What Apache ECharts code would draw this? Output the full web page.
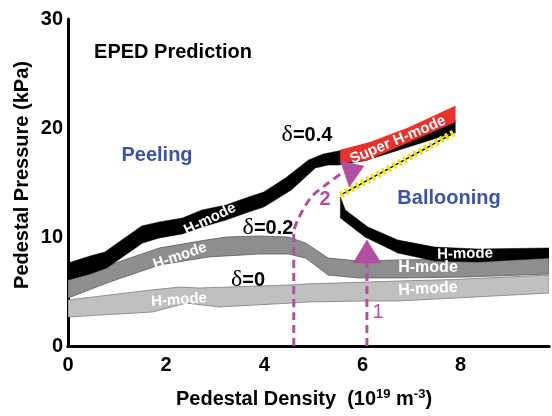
<!DOCTYPE html>
<html>
<head>
<meta charset="utf-8">
<script src="https://cdn.jsdelivr.net/npm/echarts@6/dist/echarts.min.js"></script>
<style>
  html, body { margin: 0; padding: 0; background: #fff; }
  #chart { width: 552px; height: 416px; }
</style>
</head>
<body>
<div id="chart"></div>
<script>
// Pedestal pressure bands (kPa) vs pedestal density (1e19 m^-3)
const xTickValues = [0, 2, 4, 6, 8];
const yTickValues = [0, 10, 20, 30];

// delta = 0 band
const lowDeltaUpper = [[0,4.22],[1.52,5.05],[2.27,5.41],[2.67,5.32],[4.55,5.6],[4.9,5.7],[6.11,5.87],[6.72,5.96],[7.89,6.1],[9.8,6.51]];
const lowDeltaLower = [[0,2.66],[1.72,3.12],[2.41,3.94],[3.08,3.58],[4.55,3.94],[4.9,4.04],[6.11,4.13],[6.72,4.13],[7.89,4.4],[9.8,4.86]];

// delta = 0.2 band
const midDeltaUpper = [[0,6.06],[0.85,7.43],[1.86,8.99],[2.81,9.72],[3.22,10.0],[3.89,10.09],[4.49,10.0],[4.84,9.45],[5.3,8.07],[5.91,7.8],[6.72,7.89],[8.14,7.98],[9.8,8.26]];
const midDeltaLower = [[0,4.4],[0.85,5.87],[1.86,7.43],[2.87,8.17],[3.89,8.44],[4.49,8.44],[4.84,8.07],[5.3,6.51],[5.91,6.24],[6.72,6.24],[8.14,6.33],[9.8,6.61]];

// delta = 0.4 band, low-density (peeling-limited) branch
const highDeltaUpper = [[0,7.61],[0.45,8.26],[0.75,8.62],[1.5,11.01],[1.86,11.38],[2.33,11.74],[2.73,12.48],[3.22,12.94],[3.68,13.67],[3.99,14.13],[4.43,15.41],[4.9,17.06],[5.2,17.61],[5.51,17.89]];
const highDeltaLower = [[0,6.06],[0.45,6.61],[0.79,7.16],[1.52,9.45],[1.86,9.91],[2.33,10.28],[2.73,10.92],[3.22,11.56],[3.68,12.29],[3.99,12.75],[4.55,14.31],[5.04,16.33],[5.3,16.6],[5.51,16.6]];

// delta = 0.4 band, high-density (ballooning-limited) branch
const highBranchUpper = [[5.55,13.67],[5.65,12.48],[6.11,10.92],[6.72,9.72],[7.47,9.08],[8.34,8.9],[9.8,8.99]];
const highBranchLower = [[5.55,11.74],[6.05,10.0],[6.72,8.53],[7.47,7.8],[8.34,7.7],[9.8,8.07]];

// delta = 0.4 continuation under the Super H-mode branch
const highCapUpper = [[5.51,17.89],[7.89,20.7]];
const highCapLower = [[5.51,16.6],[6.05,17.0],[7.89,19.6]];

// Super H-mode branch
const superUpper = [[5.55,17.98],[6.11,18.62],[6.92,20.0],[7.89,22.02]];
const superLower = [[5.55,16.79],[6.11,17.06],[7.89,20.55]];

// ballooning limit between the branches
const ballooningLimit = [[5.55,13.85],[7.89,19.63]];

// trajectories and arrowheads
const path1 = [[6.09,0],[6.09,7.61]];
const path2 = [[4.6,0],[4.6,10.37],[4.7,11.74],[4.96,13.67],[5.3,14.95],[5.61,15.96]];
const arrow1 = [[5.81,7.61],[6.38,7.61],[6.09,9.72]];
const arrow2 = [[5.55,16.97],[6.03,16.51],[5.73,14.59]];

const SANS = '"Liberation Sans", Arial, sans-serif';
const SERIF = '"Liberation Serif", "DejaVu Serif", serif';
const MAGENTA = '#b14fa0';
const BLUE = '#3d53a4';

function polygonSeries(points, fill, stroke, lineWidth, z) {
  return {
    type: 'custom',
    data: points,
    z: z,
    silent: true,
    clip: true,
    renderItem: function (params, api) {
      if (params.dataIndex !== 0) return null;
      return {
        type: 'polygon',
        shape: { points: points.map(function (p) { return api.coord(p); }) },
        style: { fill: fill, stroke: stroke, lineWidth: lineWidth }
      };
    }
  };
}

function band(upper, lower, fill, stroke, lineWidth, z) {
  return polygonSeries(upper.concat(lower.slice().reverse()), fill, stroke, lineWidth, z);
}

function dashedPath(points, smooth) {
  return {
    type: 'line', data: points, z: 8, silent: true, symbol: 'none', smooth: smooth,
    lineStyle: { color: MAGENTA, width: 3, type: [8, 5] }
  };
}

function deltaText(x, y, val) {
  return {
    type: 'text', x: x, y: y, z: 20,
    style: {
      text: '{d|δ}{b|=' + val + '}',
      align: 'center', verticalAlign: 'middle',
      rich: {
        d: { fontFamily: SERIF, fontSize: 24, fill: '#000' },
        b: { fontFamily: SANS, fontSize: 20, fontWeight: 'bold', fill: '#000' }
      }
    }
  };
}

function bandLabel(text, x, y, deg, size) {
  return {
    type: 'text', x: x, y: y, rotation: deg * Math.PI / 180, z: 20,
    style: {
      text: text, fill: '#fff', font: 'bold ' + (size || 15) + 'px ' + SANS,
      align: 'center', verticalAlign: 'middle'
    }
  };
}

function plainText(text, x, y, font, color) {
  return {
    type: 'text', x: x, y: y, z: 20,
    style: { text: text, font: font, fill: color, align: 'center', verticalAlign: 'middle' }
  };
}

const chart = echarts.init(document.getElementById('chart'), null, { renderer: 'canvas' });

chart.setOption({
  animation: false,
  backgroundColor: '#fff',
  grid: { left: 68, right: 0, top: 19, bottom: 70, containLabel: false },
  xAxis: [{
    type: 'value', min: 0, max: 9.8, interval: 2,
    axisLine: { show: true, onZero: false, lineStyle: { color: '#000', width: 3 } },
    axisTick: { show: false },
    splitLine: { show: false },
    axisLabel: {
      margin: 9, color: '#000', fontFamily: SANS, fontWeight: 'bold', fontSize: 20,
      formatter: function (v) { return xTickValues.indexOf(v) >= 0 ? String(v) : ''; }
    }
  }, {
    type: 'value', position: 'top', min: 0, max: 9.8,
    axisLine: { show: true, lineStyle: { color: '#000', width: 3 } },
    axisTick: { show: false }, axisLabel: { show: false }, splitLine: { show: false }
  }],
  yAxis: {
    type: 'value', min: 0, max: 30, interval: 10,
    axisLine: { show: true, onZero: false, lineStyle: { color: '#000', width: 3 } },
    axisTick: { show: false },
    splitLine: { show: false },
    axisLabel: {
      margin: 5, color: '#000', fontFamily: SANS, fontWeight: 'bold', fontSize: 20,
      formatter: function (v) { return yTickValues.indexOf(v) >= 0 ? String(v) : ''; }
    }
  },
  series: [
    band(lowDeltaUpper, lowDeltaLower, '#c0c0c1', '#7d7d7f', 0.8, 2),
    band(midDeltaUpper, midDeltaLower, '#8d8e90', '#5c5c5e', 0.8, 3),
    band(highDeltaUpper, highDeltaLower, '#000', '#000', 0.5, 4),
    band(highBranchUpper, highBranchLower, '#000', '#000', 0.5, 4),
    band(highCapUpper, highCapLower, '#000', '#000', 0.5, 4),
    band(superUpper, superLower, '#e8322b', '#e8322b', 0.5, 5),
    {
      type: 'line', data: ballooningLimit, z: 6, silent: true, symbol: 'none',
      lineStyle: { color: '#000', width: 1.5 }
    },
    {
      type: 'line', data: ballooningLimit, z: 7, silent: true, symbol: 'none',
      lineStyle: { color: '#f7e010', width: 7, type: [3, 3] }
    },
    dashedPath(path1, false),
    dashedPath(path2, 0.3),
    polygonSeries(arrow1, MAGENTA, MAGENTA, 0.5, 9),
    polygonSeries(arrow2, MAGENTA, MAGENTA, 0.5, 9)
  ],
  graphic: [
    plainText('EPED Prediction', 173, 52, 'bold 20px ' + SANS, '#000'),
    plainText('Peeling', 157, 155, 'bold 20px ' + SANS, BLUE),
    plainText('Ballooning', 449, 198, 'bold 20px ' + SANS, BLUE),
    deltaText(307, 135, '0.4'),
    deltaText(268, 228, '0.2'),
    deltaText(248, 280, '0'),
    bandLabel('H-mode', 210, 219, 26),
    bandLabel('H-mode', 180, 256, 19),
    bandLabel('H-mode', 179, 300, 4),
    bandLabel('H-mode', 465, 254, 1),
    bandLabel('H-mode', 428, 268, 0, 16),
    bandLabel('H-mode', 428, 289, 3, 16),
    bandLabel('Super H-mode', 398, 140, 23),
    plainText('2', 325, 199, 'bold 20px ' + SANS, MAGENTA),
    plainText('1', 378, 312, '20px ' + SANS, MAGENTA),
    {
      type: 'text', x: 22, y: 175, rotation: Math.PI / 2, z: 20,
      style: {
        text: 'Pedestal Pressure (kPa)', font: 'bold 20px ' + SANS, fill: '#000',
        align: 'center', verticalAlign: 'middle'
      }
    },
    {
      type: 'text', x: 304, y: 399, z: 20,
      style: {
        text: '{t|Pedestal Density  (10}{s|19}{t| m}{s|-3}{t|)}',
        align: 'center', verticalAlign: 'middle',
        rich: {
          t: { fontFamily: SANS, fontWeight: 'bold', fontSize: 20, fill: '#000' },
          s: { fontFamily: SANS, fontWeight: 'bold', fontSize: 13, fill: '#000', verticalAlign: 'top', padding: [0, 0, 10, 0] }
        }
      }
    }
  ]
});
</script>
</body>
</html>
